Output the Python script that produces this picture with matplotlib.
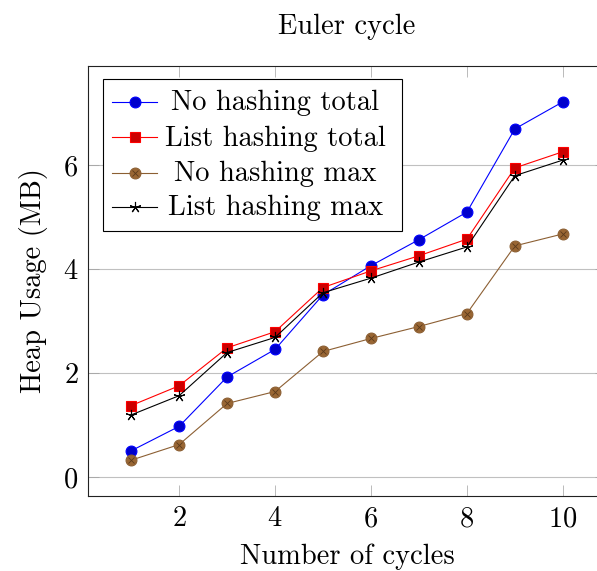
import matplotlib
matplotlib.use('Agg')
import matplotlib.pyplot as plt
from matplotlib.patches import Rectangle

plt.rcParams['font.family'] = 'serif'
plt.rcParams['font.serif'] = ['cmr10']
plt.rcParams['mathtext.fontset'] = 'cm'
plt.rcParams['axes.formatter.use_mathtext'] = True

# 数据
cycles = [1, 2, 3, 4, 5, 6, 7, 8, 9, 10]
no_hash_total = [0.51, 0.98, 1.93, 2.46, 3.51, 4.07, 4.57, 5.10, 6.70, 7.22]
list_hash_total = [1.38, 1.76, 2.49, 2.80, 3.65, 3.97, 4.26, 4.58, 5.95, 6.26]
no_hash_max = [0.33, 0.63, 1.42, 1.65, 2.42, 2.67, 2.90, 3.15, 4.45, 4.68]
list_hash_max = [1.20, 1.57, 2.40, 2.69, 3.55, 3.83, 4.14, 4.43, 5.80, 6.10]
labels = ['No hashing total', 'List hashing total', 'No hashing max', 'List hashing max']
x_ticks = [2, 4, 6, 8, 10]
y_ticks = [0, 2, 4, 6]

FS = 20.5
series = [no_hash_total, list_hash_total, no_hash_max, list_hash_max]
# 样式: 线色, 标记, 填充色, 标记大小
styles = [
    ('#0000ff', 'o', '#0000cc', 7.8),
    ('#ff0000', 's', '#cc0000', 7.6),
    ('#8c5f33', 'o', '#996633', 7.8),
    ('#000000', (5, 2, 0), '#000000', 8.0),
]

fig = plt.figure(figsize=(5.97, 5.71), dpi=100)
ax = fig.add_axes([88 / 597, 75 / 571, 518 / 597, 430 / 571])


def draw_series(xs, ys, style, transform=None):  # 画一条曲线（也用于图例样例）
    color, marker, face, ms = style
    kw = {} if transform is None else {'transform': transform, 'clip_on': False}
    ax.plot(xs, ys, color=color, lw=0.8, marker=marker, ms=ms,
            mfc=face, mec=color if marker != (5, 2, 0) else face, mew=0.8, zorder=3, **kw)
    if style is styles[2]:  # otimes 标记
        ax.plot(xs, ys, ls='none', marker='x', ms=ms * 0.62, mec='#5a3a1c', mew=0.6, zorder=4, **kw)


for ys, st in zip(series, styles):
    draw_series(cycles, ys, st)

# 坐标范围（pgfplots 默认放大 10%）
all_y = [v for s in series for v in s]
xr = max(cycles) - min(cycles)
yr = max(all_y) - min(all_y)
ax.set_xlim(min(cycles) - 0.1 * xr, max(cycles) + 0.1 * xr)
ax.set_ylim(min(all_y) - 0.1 * yr, max(all_y) + 0.1 * yr)
ax.set_xticks(x_ticks)
ax.set_yticks(y_ticks)
ax.tick_params(direction='in', top=True, right=True, length=8, width=0.5,
               color='#a0a0a0', labelsize=FS, pad=7)
ax.yaxis.grid(True, color='#c0c0c0', lw=0.8)
ax.set_axisbelow(True)
for sp in ax.spines.values():
    sp.set_linewidth(0.8)
    sp.set_color('#222222')

ax.set_title('Euler cycle', fontsize=FS, pad=23)
ax.set_xlabel('Number of cycles', fontsize=FS, labelpad=8)
ax.set_ylabel('Heap Usage (MB)', fontsize=FS, labelpad=11)

# 手动图例（文字居中，与 pgfplots 一致）
lx0, ly0, lx1, ly1 = 0.0295, 0.617, 0.607, 0.969
ax.add_patch(Rectangle((lx0, ly0), lx1 - lx0, ly1 - ly0, transform=ax.transAxes,
                       fill=True, fc='white', ec='black', lw=0.8, zorder=5, clip_on=False))
rows = [0.9156, 0.834, 0.7505, 0.6714]
for lab, st, ry in zip(labels, styles, rows):
    ax.plot([0.0463, 0.1332], [ry, ry], color=st[0], lw=0.8, transform=ax.transAxes,
            clip_on=False, zorder=6)
    ax.plot([0.0898], [ry], ls='none', marker=st[1], ms=st[3], mfc=st[2],
            mec=st[0] if st[1] != (5, 2, 0) else st[2], mew=0.8,
            transform=ax.transAxes, clip_on=False, zorder=7)
    if st is styles[2]:
        ax.plot([0.0898], [ry], ls='none', marker='x', ms=st[3] * 0.62, mec='#5a3a1c',
                mew=0.6, transform=ax.transAxes, clip_on=False, zorder=8)
    ax.text(0.362, ry - 0.019, lab, fontsize=FS, ha='center', va='baseline',
            transform=ax.transAxes, zorder=8)

fig.savefig('out.png', dpi=100)
